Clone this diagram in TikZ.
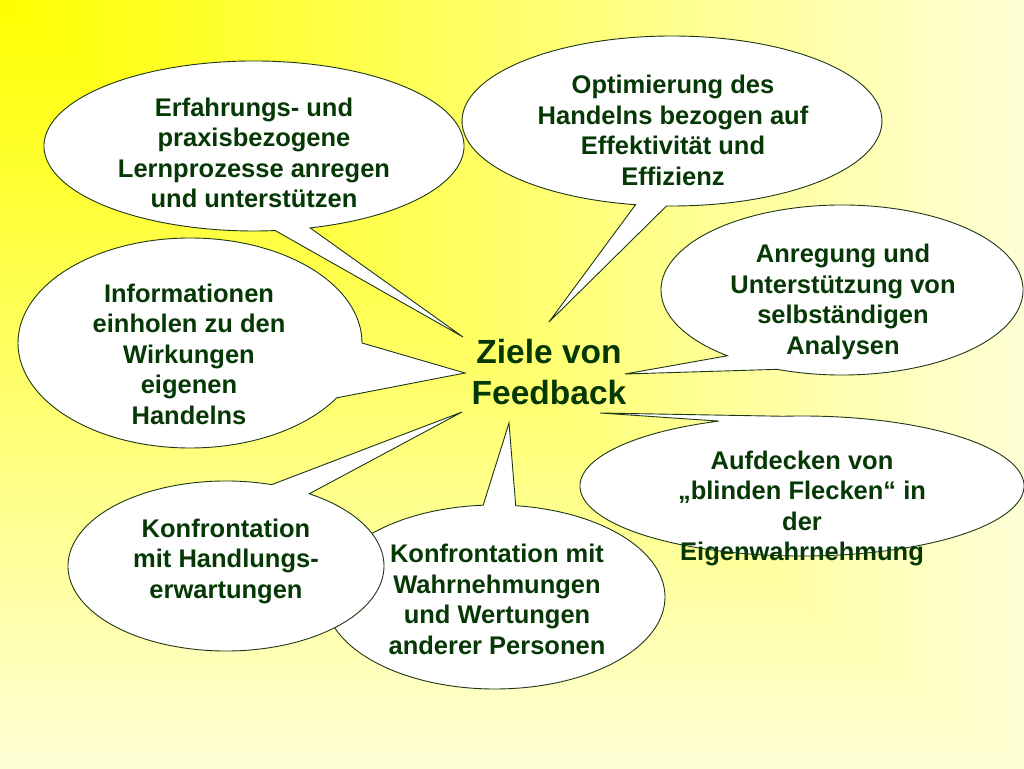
\documentclass[tikz,border=0pt]{standalone}
\usepackage{fontspec}
\setmainfont{Liberation Sans}
\usetikzlibrary{calc}
\definecolor{textgreen}{RGB}{6,56,6}
\definecolor{edgegreen}{RGB}{30,55,20}
\definecolor{bgpale}{RGB}{255,255,215}
\newcommand\mycallout[9]{%
  \coordinate (#1c) at (#2,#3);
  \coordinate (#1t) at (#8,#9);
  \filldraw[bubble] ($(#1c)+(#7:#4 and #5)$) arc[start angle=#7, end angle=#6+360, x radius=#4, y radius=#5] -- (#1t) -- cycle;
}
\begin{document}
\begin{tikzpicture}[x=1pt,y=1pt,
  bubble/.style={fill=white, draw=edgegreen, line width=0.9pt, line join=miter},
  lbl/.style={text=textgreen, font=\bfseries\fontsize{25.5}{30.5}\selectfont, align=center, inner sep=0pt},
  title/.style={text=textgreen, font=\bfseries\fontsize{33.5}{41}\selectfont, align=center, inner sep=0pt}]
\useasboundingbox (0,0) rectangle (1024,768);
\begin{scope}
  \clip (0,0) rectangle (1024,768);
  % rectangular gradient from the top-left corner: lower-left half varies with height
  \shade[top color=yellow, bottom color=bgpale] (0,768) -- (0,0) -- (1024,0) -- (1024,768) -- cycle;
  % upper-right half varies with width
  \shade[left color=yellow, right color=bgpale] (0,768) -- (1024,768) -- (1024,0) -- (1018,0) -- (-3,768) -- cycle;
\end{scope}
% Erfahrungs
\mycallout{e}{254}{622}{210}{85}{-84.2}{-74.5}{463}{431}
\node[lbl] (erf) at (254,615) {Erfahrungs- und\\praxisbezogene\\Lernprozesse anregen\\und unterstützen};
% Optimierung
\mycallout{o}{672}{647}{210}{85}{-100}{-91.5}{549}{446}
\node[lbl] (opt) at (673,637.5) {Optimierung des\\Handelns bezogen auf\\Effektivität und\\Effizienz};
% Anregung
\mycallout{a}{842}{478}{181}{85}{-129.3}{-111}{625}{394}
\node[lbl] (anr) at (843,466) {Anregung und\\Unterstützung von\\selbständigen\\Analysen};
% Informationen
\mycallout{i}{190}{425}{172}{105}{-31.5}{0}{465}{395}
\node[lbl] (inf) at (189,414) {Informationen\\einholen zu den\\Wirkungen\\eigenen\\Handelns};
% Aufdecken
\mycallout{u}{802}{282}{222}{70}{95}{112}{600}{355}
\node[lbl] (auf) at (802,259.3) {Aufdecken von\\„blinden Flecken“ in\\der\\Eigenwahrnehmung};
% Konfrontation Wahrnehmungen
\mycallout{w}{495}{171}{170}{92}{83}{94}{509}{345}
\node[lbl] (wah) at (497,168.5) {Konfrontation mit\\Wahrnehmungen\\und Wertungen\\anderer Personen};
% Konfrontation Handlungs
\mycallout{h}{226}{202}{158}{85}{58.2}{73.2}{462}{356}
\node[lbl] (han) at (226,206.6) {Konfrontation\\mit Handlungs-\\erwartungen};
% Center
\node[title] (ziel) at (549,395.5) {Ziele von\\Feedback};
\end{tikzpicture}
\end{document}
